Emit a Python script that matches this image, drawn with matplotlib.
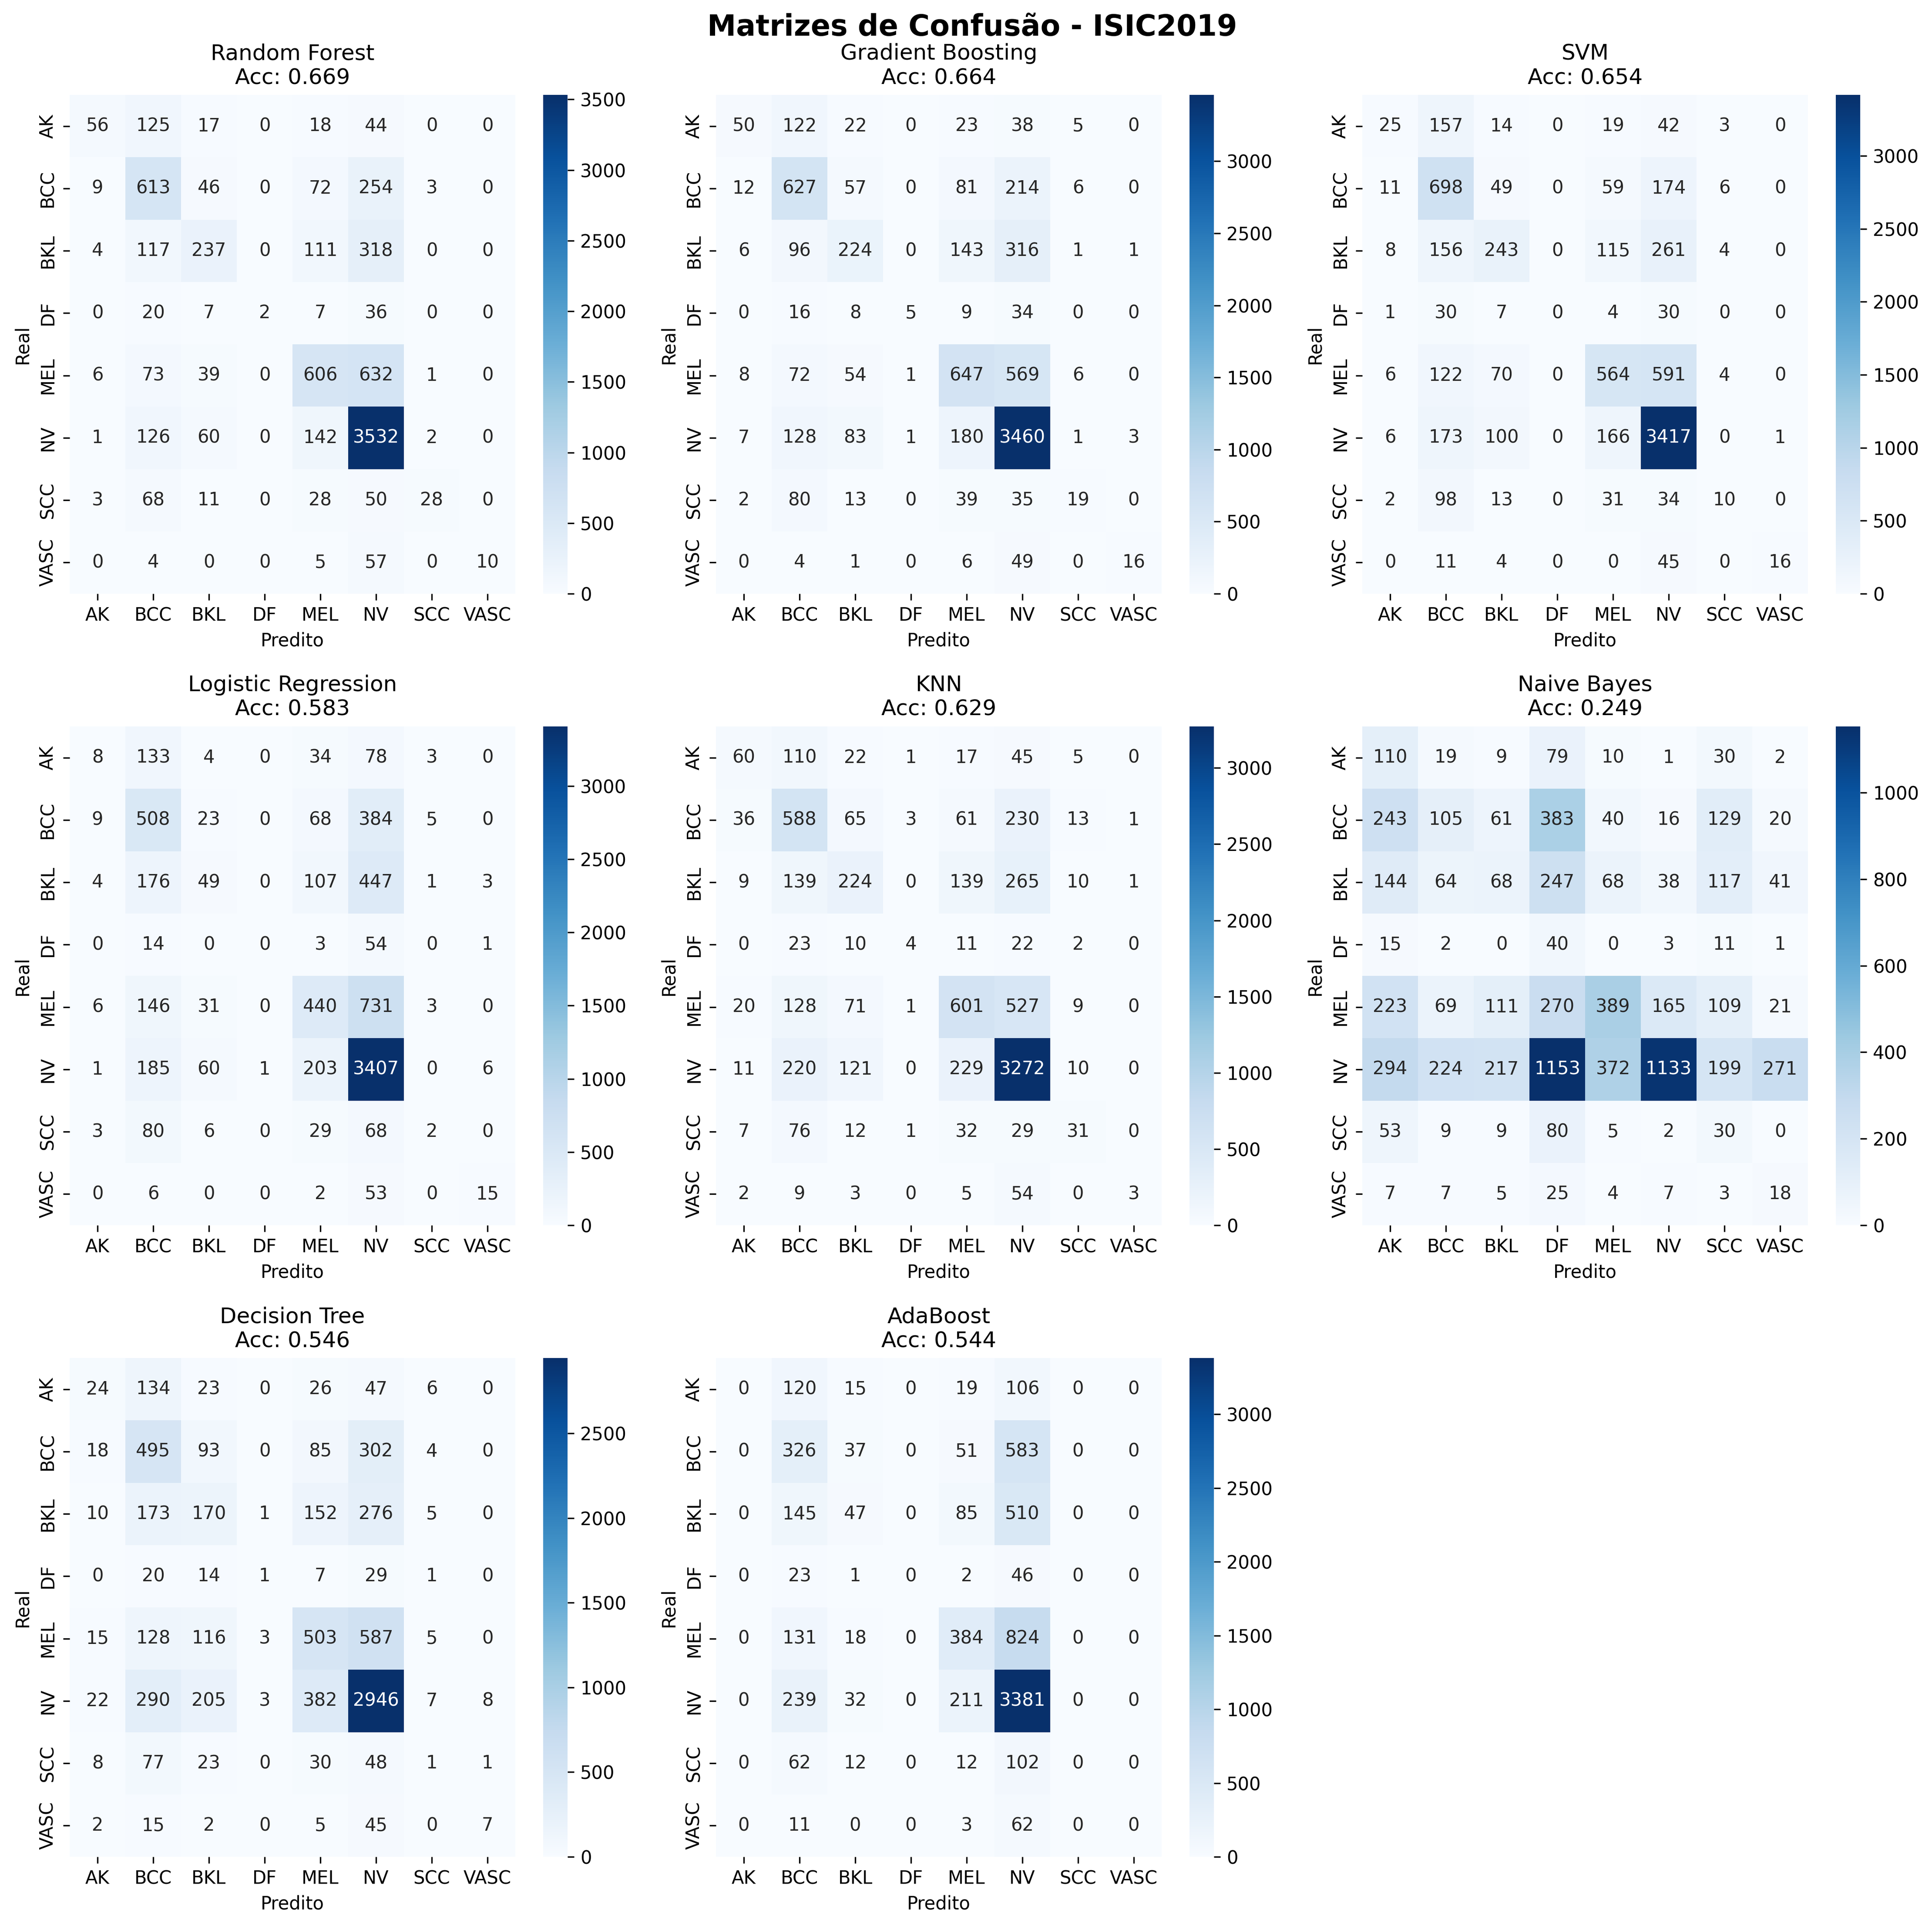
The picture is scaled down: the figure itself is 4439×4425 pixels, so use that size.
import matplotlib
matplotlib.use("Agg")
import matplotlib.pyplot as plt
import numpy as np
import seaborn as sns

classes = ["AK", "BCC", "BKL", "DF", "MEL", "NV", "SCC", "VASC"]
titles = ["Random Forest", "Gradient Boosting", "SVM", "Logistic Regression", "KNN",
          "Naive Bayes", "Decision Tree", "AdaBoost"]
accs = [0.669, 0.664, 0.654, 0.583, 0.629, 0.249, 0.546, 0.544]

random_forest = [[56,125,17,0,18,44,0,0],[9,613,46,0,72,254,3,0],[4,117,237,0,111,318,0,0],[0,20,7,2,7,36,0,0],
                 [6,73,39,0,606,632,1,0],[1,126,60,0,142,3532,2,0],[3,68,11,0,28,50,28,0],[0,4,0,0,5,57,0,10]]
gradient_boosting = [[50,122,22,0,23,38,5,0],[12,627,57,0,81,214,6,0],[6,96,224,0,143,316,1,1],[0,16,8,5,9,34,0,0],
                     [8,72,54,1,647,569,6,0],[7,128,83,1,180,3460,1,3],[2,80,13,0,39,35,19,0],[0,4,1,0,6,49,0,16]]
svm = [[25,157,14,0,19,42,3,0],[11,698,49,0,59,174,6,0],[8,156,243,0,115,261,4,0],[1,30,7,0,4,30,0,0],
       [6,122,70,0,564,591,4,0],[6,173,100,0,166,3417,0,1],[2,98,13,0,31,34,10,0],[0,11,4,0,0,45,0,16]]
logistic = [[8,133,4,0,34,78,3,0],[9,508,23,0,68,384,5,0],[4,176,49,0,107,447,1,3],[0,14,0,0,3,54,0,1],
            [6,146,31,0,440,731,3,0],[1,185,60,1,203,3407,0,6],[3,80,6,0,29,68,2,0],[0,6,0,0,2,53,0,15]]
knn = [[60,110,22,1,17,45,5,0],[36,588,65,3,61,230,13,1],[9,139,224,0,139,265,10,1],[0,23,10,4,11,22,2,0],
       [20,128,71,1,601,527,9,0],[11,220,121,0,229,3272,10,0],[7,76,12,1,32,29,31,0],[2,9,3,0,5,54,0,3]]
naive_bayes = [[110,19,9,79,10,1,30,2],[243,105,61,383,40,16,129,20],[144,64,68,247,68,38,117,41],[15,2,0,40,0,3,11,1],
               [223,69,111,270,389,165,109,21],[294,224,217,1153,372,1133,199,271],[53,9,9,80,5,2,30,0],[7,7,5,25,4,7,3,18]]
decision_tree = [[24,134,23,0,26,47,6,0],[18,495,93,0,85,302,4,0],[10,173,170,1,152,276,5,0],[0,20,14,1,7,29,1,0],
                 [15,128,116,3,503,587,5,0],[22,290,205,3,382,2946,7,8],[8,77,23,0,30,48,1,1],[2,15,2,0,5,45,0,7]]
adaboost = [[0,120,15,0,19,106,0,0],[0,326,37,0,51,583,0,0],[0,145,47,0,85,510,0,0],[0,23,1,0,2,46,0,0],
            [0,131,18,0,384,824,0,0],[0,239,32,0,211,3381,0,0],[0,62,12,0,12,102,0,0],[0,11,0,0,3,62,0,0]]
matrices = [random_forest, gradient_boosting, svm, logistic, knn, naive_bayes, decision_tree, adaboost]

W, H = 4439, 4425
fig = plt.figure(figsize=(W/300, H/300))

def box(left, top, width, height):
    return [left/W, 1-(top+height)/H, width/W, height/H]

for i, (m, t, a) in enumerate(zip(matrices, titles, accs)):
    row, col = divmod(i, 3)
    x0 = 160 + col*1485
    y0 = 218 + row*1451
    ax = fig.add_axes(box(x0, y0, 1024, 1146))
    cax = fig.add_axes(box(x0+1088, y0, 56, 1146))
    sns.heatmap(np.array(m), annot=True, fmt="d", cmap="Blues", ax=ax, cbar_ax=cax,
                xticklabels=classes, yticklabels=classes)
    ax.set_title(f"{t}\nAcc: {a:.3f}")
    ax.set_xlabel("Predito")
    ax.set_ylabel("Real")
fig.suptitle("Matrizes de Confusão - ISIC2019", fontsize=16, fontweight="bold",
             x=2234/W, y=1-82/H, va="baseline")
fig.savefig("out.png", dpi=300)
